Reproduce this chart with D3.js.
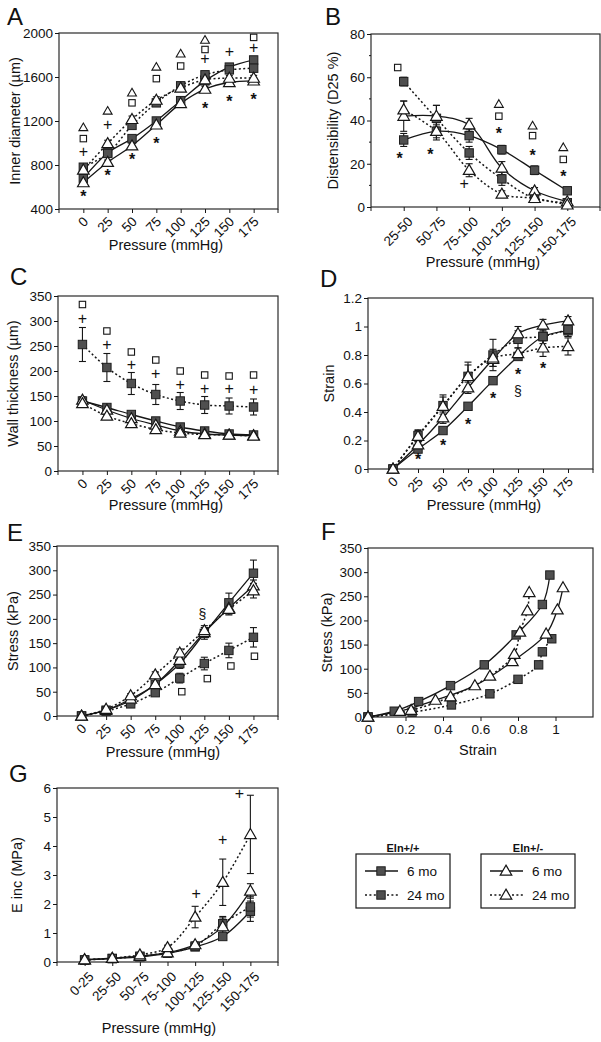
<!DOCTYPE html>
<html><head><meta charset="utf-8">
<script src="https://cdn.jsdelivr.net/npm/d3@7"></script>
<style>
body{margin:0;background:#fff}
svg{display:block}
text{font-family:"Liberation Sans",Arial,sans-serif;fill:#111}
</style>
</head><body>
<svg id="c" width="601" height="1042"></svg>
<script>
// ---------------- DATA ----------------
const pressures = ["0","25","50","75","100","125","150","175"];
const ranges6 = ["25-50","50-75","75-100","100-125","125-150","150-175"];
const ranges7 = ["0-25","25-50","50-75","75-100","100-125","125-150","150-175"];
const legendGroups = ["Eln+/+","Eln+/-"];
const legendAges = ["6 mo","24 mo"];

// A: inner diameter (µm)
const diamWt6  = [680, 910, 1040, 1200, 1385, 1565, 1690, 1755];
const diamWt24 = [780, 905, 1160, 1365, 1520, 1620, 1665, 1680];
const diamHet6 = [640, 825, 975, 1165, 1360, 1490, 1550, 1565];
const diamHet24= [755, 995, 1215, 1390, 1500, 1575, 1590, 1590];
const diamErrWt6  = [25,20,20,20,20,25,20,25];
const diamErrWt24 = [30,25,30,30,25,30,25,25];
const diamErrHet6 = [25,20,20,20,20,25,25,25];
const diamErrHet24= [30,30,30,30,25,25,25,25];
const diamAnnot = [
 ["0","tri",1140,0],["0","sq",1040,0],["0","plus",925,0],["0","star",545,0],
 ["25","tri",1290,0],["25","plus",1170,0],["25","star",735,0],
 ["50","tri",1455,0],["50","sq",1365,0],["50","star",885,0],
 ["75","tri",1690,0],["75","sq",1585,0],["75","star",1030,0],
 ["100","tri",1810,0],["100","sq",1700,0],
 ["125","tri",1935,0],["125","sq",1850,0],["125","plus",1770,0],["125","star",1350,0],
 ["150","plus",1830,0],["150","star",1410,0],
 ["175","sq",1960,0],["175","plus",1870,0],["175","star",1425,0]];

// B: distensibility (D25 %)
const distWt6  = [31, 35, 33, 26.5, 17, 7.5];
const distWt24 = [58, 41, 25, 13, 4, 2];
const distHet6 = [42, 42, 38, 18, 7.5, 2.5];
const distHet24= [45, 35, 17, 6, 4, 1];
const distErrWt6  = [3,4,3,2,2,1.5];
const distErrWt24 = [2,6,3,3,1,1];
const distErrHet6 = [7,5,3,3,1.5,1];
const distErrHet24= [4,3,3,1.5,1,1];
const distAnnot = [
 ["25-50","sq",64.5,-6],["25-50","star",24,-4],["50-75","star",26,-6],["75-100","plus",11,-5],
 ["100-125","tri",47.5,-3],["100-125","sq",42,-3],["100-125","star",35.5,-3],
 ["125-150","tri",37.5,-2],["125-150","sq",33,-2],["125-150","star",25.5,-2],
 ["150-175","tri",27.5,-4],["150-175","sq",22,-4],["150-175","star",16,-4]];

// C: wall thickness (µm)
const wallWt6  = [140, 127, 113, 100, 88, 80, 74, 72];
const wallWt24 = [253, 207, 175, 153, 140, 132, 130, 128];
const wallHet6 = [142, 122, 105, 92, 80, 74, 72, 71];
const wallHet24= [135, 110, 95, 83, 76, 73, 72, 70];
const wallErrWt6  = [5,4,3,3,2,2,2,2];
const wallErrWt24 = [34,28,22,20,17,17,16,16];
const wallErrHet6 = [6,4,3,3,2,2,2,2];
const wallErrHet24= [6,4,3,3,2,2,2,2];
const wallAnnot = [
 ["0","sq",333,0],["0","plus",305,0],["25","sq",280,0],["25","plus",253,0],
 ["50","sq",238,0],["50","plus",213,0],["75","sq",222,0],["75","plus",195,0],
 ["100","sq",200,0],["100","plus",174,0],["125","sq",192,0],["125","plus",166,0],
 ["150","sq",190,0],["150","plus",165,0],["175","sq",192,0],["175","plus",164,0]];

// D: strain
const strainWt6  = [0, 0.14, 0.27, 0.44, 0.62, 0.79, 0.93, 0.97];
const strainWt24 = [0, 0.235, 0.445, 0.65, 0.80, 0.91, 0.93, 0.98];
const strainHet6 = [0, 0.17, 0.36, 0.57, 0.77, 0.95, 1.01, 1.04];
const strainHet24= [0, 0.23, 0.44, 0.65, 0.78, 0.81, 0.85, 0.86];
const strainErrWt6  = [0,0.02,0.02,0.02,0.02,0.02,0.03,0.04];
const strainErrWt24 = [0,0.04,0.06,0.08,0.11,0.06,0.05,0.05];
const strainErrHet6 = [0,0.03,0.04,0.04,0.05,0.05,0.04,0.03];
const strainErrHet24= [0,0.04,0.08,0.10,0.06,0.04,0.06,0.06];
const strainAnnot = [
 ["25","star",0.09,0],["50","star",0.19,0],["75","star",0.34,0],["100","star",0.52,0],
 ["125","star",0.69,0],["125","sect",0.54,0],["150","star",0.73,0]];

// E: stress (kPa)
const stressWt6  = [0, 12, 32, 65, 108, 170, 233, 294];
const stressWt24 = [0, 10, 25, 48, 78, 108, 135, 162];
const stressHet6 = [0, 12, 35, 65, 115, 172, 222, 268];
const stressHet24= [0, 14, 42, 85, 130, 176, 220, 258];
const stressErrWt6  = [0,2,4,6,10,12,20,27];
const stressErrWt24 = [0,2,3,5,10,13,15,20];
const stressErrHet6 = [0,2,4,6,8,10,12,12];
const stressErrHet24= [0,2,4,6,8,10,12,15];
const stressAnnot = [
 ["125","sect",208,-2],["100","sq",50,2],["125","sq",77,3],["150","sq",103,2],["175","sq",123,1]];

// G: incremental elastic modulus (MPa)
const eincWt6  = [0.07, 0.12, 0.18, 0.30, 0.52, 0.88, 1.75];
const eincWt24 = [0.07, 0.12, 0.20, 0.32, 0.55, 1.32, 1.90];
const eincHet6 = [0.08, 0.13, 0.20, 0.32, 0.60, 1.22, 2.45];
const eincHet24= [0.08, 0.13, 0.25, 0.50, 1.55, 2.75, 4.40];
const eincErrWt6  = [0.02,0.02,0.03,0.04,0.06,0.10,0.35];
const eincErrWt24 = [0.02,0.02,0.03,0.05,0.07,0.25,0.35];
const eincErrHet6 = [0.02,0.02,0.03,0.05,0.08,0.30,0.25];
const eincErrHet24= [0.02,0.03,0.05,0.08,0.37,0.80,1.35];
const eincAnnot = [["100-125","plus",2.35,1],["125-150","plus",4.22,0],["150-175","plus",5.82,-11]];

// ---------------- DRAWING ----------------
const svg = d3.select("#c");
const INK = "#161616";
const styles = {
  wt6:  {dash:null,   marker:"sq"},
  wt24: {dash:"2,2.4",marker:"sq"},
  het6: {dash:null,   marker:"tri"},
  het24:{dash:"2,2.4",marker:"tri"}
};
const numFmt = d => (d === 0 ? "0" : (Number.isInteger(d) ? String(d) : d3.format(".1f")(d)));

function marker(g, type, X, Y) {
  if (type === "sq") {
    g.append("rect").attr("x", X-4.2).attr("y", Y-4.2).attr("width", 8.4).attr("height", 8.4)
      .attr("fill", "#4f4f4f").attr("stroke", "#1e1e1e").attr("stroke-width", 1);
  } else {
    g.append("path").attr("d", d3.symbol(d3.symbolTriangle, 58)())
      .attr("transform", `translate(${X},${Y+0.8})`)
      .attr("fill", "#fff").attr("stroke", INK).attr("stroke-width", 1.2);
  }
}

function annot(g, type, X, Y) {
  if (type === "sq") {
    g.append("rect").attr("x", X-3.2).attr("y", Y-3.2).attr("width", 6.4).attr("height", 6.4)
      .attr("fill", "#fff").attr("stroke", INK).attr("stroke-width", 1.1);
  } else if (type === "tri") {
    g.append("path").attr("d", d3.symbol(d3.symbolTriangle, 34)())
      .attr("transform", `translate(${X},${Y+0.5})`)
      .attr("fill", "#fff").attr("stroke", INK).attr("stroke-width", 1.1);
  } else if (type === "plus") {
    g.append("text").attr("x", X).attr("y", Y + 0.35*16).attr("text-anchor", "middle")
      .attr("font-size", 16).text("+");
  } else if (type === "star") {
    g.append("text").attr("x", X).attr("y", Y + 0.57*16).attr("text-anchor", "middle")
      .attr("font-size", 16).attr("font-weight", "bold").text("*");
  } else if (type === "sect") {
    g.append("text").attr("x", X).attr("y", Y + 0.3*14).attr("text-anchor", "middle")
      .attr("font-size", 14).text("§");
  }
}

function panel(cfg) {
  const {x0, x1, y0, y1} = cfg;
  const g = svg.append("g");
  const y = d3.scaleLinear().domain(cfg.yDomain).range([y1, y0]);
  const x = cfg.cats
    ? d3.scalePoint().domain(cfg.cats).range([x0, x1]).padding(1)
    : d3.scaleLinear().domain(cfg.xDomain).range([x0, x1]);

  // frame
  g.append("rect").attr("x", x0).attr("y", y0).attr("width", x1-x0).attr("height", y1-y0)
    .attr("fill", "none").attr("stroke", "#2a2a2a").attr("stroke-width", 1.2);

  // y axis
  const ya = g.append("g").attr("transform", `translate(${x0},0)`)
    .call(d3.axisLeft(y).tickValues(cfg.yTicks).tickSize(4).tickPadding(2).tickFormat(cfg.yFmt || numFmt));
  ya.select(".domain").remove();
  ya.selectAll("line").attr("stroke", INK);
  ya.selectAll("text").attr("font-size", 13.5).attr("font-family", '"Liberation Sans",Arial,sans-serif').attr("fill", INK);
  if (cfg.minor) {
    g.append("g").selectAll("line").data(cfg.minor).join("line")
      .attr("x1", x0-2).attr("x2", x0).attr("y1", d => y(d)).attr("y2", d => y(d))
      .attr("stroke", INK);
  }

  // x axis
  if (cfg.cats) {
    const xa = g.append("g").attr("transform", `translate(0,${y1})`)
      .call(d3.axisBottom(x).tickSize(4).tickSizeOuter(0));
    xa.select(".domain").remove();
    xa.selectAll("line").attr("stroke", INK);
    xa.selectAll("text").attr("font-size", 13.5).attr("font-family", '"Liberation Sans",Arial,sans-serif').attr("fill", INK)
      .attr("x", 0).attr("y", 0).attr("dy", "0.35em").attr("text-anchor", "end")
      .attr("transform", `translate(${cfg.rot[0]},${cfg.rot[1]}) rotate(-45)`);
    // edge ticks
    g.append("g").selectAll("line").data([x0, x1]).join("line")
      .attr("x1", d => d).attr("x2", d => d).attr("y1", y1).attr("y2", y1+4).attr("stroke", INK);
  } else {
    const xa = g.append("g").attr("transform", `translate(0,${y1})`)
      .call(d3.axisBottom(x).tickValues(cfg.xTicks).tickSize(4).tickPadding(3).tickFormat(numFmt));
    xa.select(".domain").remove();
    xa.selectAll("line").attr("stroke", INK);
    xa.selectAll("text").attr("font-size", 13.5).attr("font-family", '"Liberation Sans",Arial,sans-serif').attr("fill", INK);
  }

  // titles
  g.append("text").attr("x", cfg.letter[0]).attr("y", cfg.letter[1]).attr("font-size", 24).text(cfg.id);
  const cy = (y0 + y1) / 2;
  g.append("text").attr("transform", `translate(${cfg.ylabX},${cy}) rotate(-90)`)
    .attr("text-anchor", "middle").attr("dominant-baseline", "central").attr("font-size", 14.5).text(cfg.ylabel);
  g.append("text").attr("x", cfg.xlab[0]).attr("y", cfg.xlab[1]).attr("text-anchor", "middle")
    .attr("dominant-baseline", "central").attr("font-size", 14.5).text(cfg.xlabel);

  // series
  const line = d3.line().x(d => d.X).y(d => d.Y).curve(d3.curveCatmullRom.alpha(0.5));
  cfg.series.forEach(s => {
    const st = styles[s.key];
    const pts = s.vals.map((v, i) => ({
      X: cfg.cats ? x(cfg.cats[i]) : x(s.xs[i]),
      Y: y(v),
      lo: s.errs ? y(v - s.errs[i]) : null,
      hi: s.errs ? y(v + s.errs[i]) : null
    }));
    s.pts = pts;
    g.append("path").attr("d", line(pts)).attr("fill", "none").attr("stroke", INK)
      .attr("stroke-width", st.dash ? 1.5 : 1.3).attr("stroke-dasharray", st.dash);
  });
  cfg.series.forEach(s => {
    if (!s.errs) return;
    const eg = g.append("g").attr("stroke", INK).attr("stroke-width", 1.1);
    s.pts.forEach(p => {
      if (Math.abs(p.hi - p.lo) < 1) return;
      eg.append("line").attr("x1", p.X).attr("x2", p.X).attr("y1", p.lo).attr("y2", p.hi);
      eg.append("line").attr("x1", p.X-3.5).attr("x2", p.X+3.5).attr("y1", p.lo).attr("y2", p.lo);
      eg.append("line").attr("x1", p.X-3.5).attr("x2", p.X+3.5).attr("y1", p.hi).attr("y2", p.hi);
    });
  });
  cfg.series.forEach(s => {
    const st = styles[s.key];
    s.pts.forEach(p => marker(g, st.marker, p.X, p.Y));
  });

  // significance annotations
  (cfg.annot || []).forEach(([c, type, v, dx]) => annot(g, type, x(c) + dx, y(v)));
}

const rotShort = [2, 10], rotLong = [6, 12];

panel({id:"A", x0:59, x1:278, y0:33, y1:209, cats:pressures, rot:rotShort,
  yDomain:[400,2000], yTicks:[400,800,1200,1600,2000],
  letter:[7,25], ylabel:"Inner diameter (µm)", ylabX:15, xlabel:"Pressure (mmHg)", xlab:[166,245],
  series:[{key:"wt6",vals:diamWt6,errs:diamErrWt6},{key:"wt24",vals:diamWt24,errs:diamErrWt24},
          {key:"het6",vals:diamHet6,errs:diamErrHet6},{key:"het24",vals:diamHet24,errs:diamErrHet24}],
  annot:diamAnnot});

panel({id:"B", x0:371, x1:600, y0:34, y1:207, cats:ranges6, rot:rotLong,
  yDomain:[0,80], yTicks:[0,20,40,60,80], minor:[10,30,50,70],
  letter:[325,25], ylabel:"Distensibility (D25 %)", ylabX:333, xlabel:"Pressure (mmHg)", xlab:[483,262],
  series:[{key:"wt6",vals:distWt6,errs:distErrWt6},{key:"wt24",vals:distWt24,errs:distErrWt24},
          {key:"het6",vals:distHet6,errs:distErrHet6},{key:"het24",vals:distHet24,errs:distErrHet24}],
  annot:distAnnot});

panel({id:"C", x0:58, x1:278, y0:296, y1:471, cats:pressures, rot:rotShort,
  yDomain:[0,350], yTicks:[0,50,100,150,200,250,300,350],
  letter:[10,285], ylabel:"Wall thickness (µm)", ylabX:13, xlabel:"Pressure (mmHg)", xlab:[166,505],
  series:[{key:"wt6",vals:wallWt6,errs:wallErrWt6},{key:"wt24",vals:wallWt24,errs:wallErrWt24},
          {key:"het6",vals:wallHet6,errs:wallErrHet6},{key:"het24",vals:wallHet24,errs:wallErrHet24}],
  annot:wallAnnot});

panel({id:"D", x0:368, x1:593, y0:298, y1:469, cats:pressures, rot:rotShort,
  yDomain:[0,1.2], yTicks:[0,0.2,0.4,0.6,0.8,1,1.2],
  letter:[320,287], ylabel:"Strain", ylabX:329, xlabel:"Pressure (mmHg)", xlab:[484,505],
  series:[{key:"wt6",vals:strainWt6,errs:strainErrWt6},{key:"wt24",vals:strainWt24,errs:strainErrWt24},
          {key:"het6",vals:strainHet6,errs:strainErrHet6},{key:"het24",vals:strainHet24,errs:strainErrHet24}],
  annot:strainAnnot});

panel({id:"E", x0:57, x1:278, y0:546, y1:716, cats:pressures, rot:rotShort,
  yDomain:[0,350], yTicks:[0,50,100,150,200,250,300,350],
  letter:[7,541], ylabel:"Stress (kPa)", ylabX:13, xlabel:"Pressure (mmHg)", xlab:[163,752],
  series:[{key:"wt6",vals:stressWt6,errs:stressErrWt6},{key:"wt24",vals:stressWt24,errs:stressErrWt24},
          {key:"het6",vals:stressHet6,errs:stressErrHet6},{key:"het24",vals:stressHet24,errs:stressErrHet24}],
  annot:stressAnnot});

panel({id:"F", x0:368, x1:593, y0:548, y1:717, xDomain:[0,1.2], xTicks:[0,0.2,0.4,0.6,0.8,1],
  yDomain:[0,350], yTicks:[0,50,100,150,200,250,300,350],
  letter:[321,540], ylabel:"Stress (kPa)", ylabX:327, xlabel:"Strain", xlab:[478,750],
  series:[{key:"wt6",xs:strainWt6,vals:stressWt6},{key:"wt24",xs:strainWt24,vals:stressWt24},
          {key:"het6",xs:strainHet6,vals:stressHet6},{key:"het24",xs:strainHet24,vals:stressHet24}]});

panel({id:"G", x0:57, x1:278, y0:788, y1:962, cats:ranges7, rot:rotLong,
  yDomain:[0,6], yTicks:[0,1,2,3,4,5,6],
  letter:[9,782], ylabel:"E inc (MPa)", ylabX:17, xlabel:"Pressure (mmHg)", xlab:[159,1028],
  series:[{key:"wt6",vals:eincWt6,errs:eincErrWt6},{key:"wt24",vals:eincWt24,errs:eincErrWt24},
          {key:"het6",vals:eincHet6,errs:eincErrHet6},{key:"het24",vals:eincHet24,errs:eincErrHet24}],
  annot:eincAnnot});

// legend
const legBoxes = [{x:356, keys:["wt6","wt24"]}, {x:481, keys:["het6","het24"]}];
legBoxes.forEach((b, bi) => {
  const g = svg.append("g");
  const w = 94, h = 54, top = 854;
  g.append("rect").attr("x", b.x).attr("y", top).attr("width", w).attr("height", h)
    .attr("fill", "none").attr("stroke", INK).attr("stroke-width", 1.2);
  g.append("text").attr("x", b.x + 47).attr("y", 852).attr("text-anchor", "middle")
    .attr("font-size", 11).attr("font-weight", "bold").text(legendGroups[bi]);
  legendAges.forEach((age, i) => {
    const yy = top + 17 + i * 24;
    const st = styles[b.keys[i]];
    g.append("line").attr("x1", b.x + 9).attr("x2", b.x + 42).attr("y1", yy).attr("y2", yy)
      .attr("stroke", INK).attr("stroke-width", st.dash ? 1.5 : 1.3).attr("stroke-dasharray", st.dash);
    marker(g, st.marker, b.x + 25, yy);
    g.append("text").attr("x", b.x + 51).attr("y", yy + 4.5).attr("font-size", 13.5).text(age);
  });
});
</script>
</body></html>
